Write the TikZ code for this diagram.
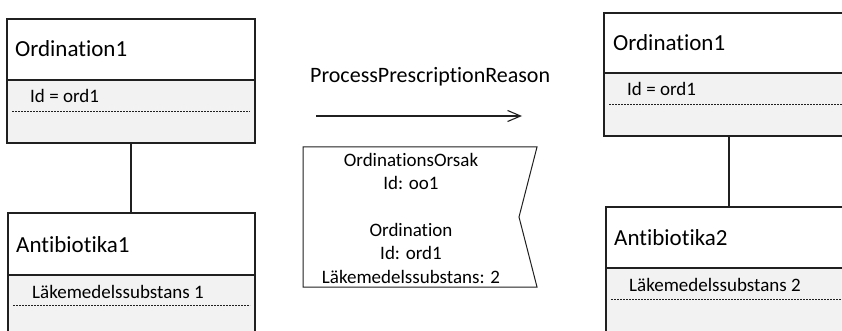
\documentclass[tikz,border=0pt]{standalone}
\usepackage{fontspec}
\setmainfont{Carlito}[Ligatures=NoCommon]
\usetikzlibrary{arrows.meta}
\definecolor{linegray}{HTML}{202020}
\definecolor{compfill}{HTML}{F2F2F2}
\tikzset{
  classbox/.style={draw=linegray, line width=1.3pt, anchor=north west,
    minimum width=248pt, inner sep=0pt, outer sep=0pt},
  attrsep/.style={draw=linegray, line width=0.8pt, dash pattern=on 2pt off 1pt},
  titletext/.style={anchor=base west, inner sep=0pt, font=\fontsize{23}{27}\selectfont},
  attrtext/.style={anchor=base west, inner sep=0pt, font=\fontsize{19}{23}\selectfont},
  link/.style={draw=linegray, line width=1.2pt},
  flow/.style={draw=linegray, line width=1.1pt, -{Straight Barb[length=13pt,width=11pt,line width=1.1pt]}},
  flag/.style={draw=linegray, line width=1pt, fill=white},
}
\begin{document}
\begin{tikzpicture}[x=1pt,y=-1pt]
\useasboundingbox (0,0) rectangle (842,331);
\clip (0,0) rectangle (842,331);
\fill[white] (0,0) rectangle (842,331);

% ---- left object pair ----
\fill[compfill] (7,80) rectangle (255,143);
\node[classbox, minimum height=124pt] (ordA) at (7,19) {};
\draw[link] (7,80) -- (255,80);
\draw[attrsep] (12,111) -- (250,111);
\node[titletext] (ordAt) at (15,57) {Ordination1};
\node[attrtext] (ordAa) at (30,103) {Id = ord1};

\fill[compfill] (8,275) rectangle (255,360);
\node[classbox, minimum width=247pt, minimum height=150pt] (antA) at (8,213) {};
\draw[link] (8,275) -- (255,275);
\draw[attrsep] (13,305) -- (250,305);
\node[titletext] (antAt) at (16,252) {Antibiotika1};
\node[attrtext] (antAa) at (32,298) {Läkemedelssubstans 1};

\draw[link] (ordA.south) -- (antA.north -| ordA.south);

% ---- operation in the middle ----
\node[anchor=base west, inner sep=0pt, font=\fontsize{22}{26}\selectfont] (op) at (310,83) {ProcessPrescriptionReason};
\coordinate (flowA) at (316,116);
\coordinate (flowB) at (522,116);
\draw[flow] (flowA) -- (flowB);

\draw[flag] (303,147) -- (537,147) -- (519,217) -- (537,287) -- (303,287) -- cycle;
\node[align=center, inner sep=0pt, anchor=north, font=\fontsize{19}{23.4}\selectfont] (msg) at (411,153)
  {OrdinationsOrsak\\Id: oo1\\[23.4pt]Ordination\\Id: ord1\\Läkemedelssubstans: 2};

% ---- right object pair ----
\fill[compfill] (604,73) rectangle (860,136);
\node[classbox, minimum width=250pt, minimum height=123pt] (ordB) at (604,13) {};
\draw[link] (604,73) -- (854,73);
\draw[attrsep] (609,104) -- (849,104);
\node[titletext] (ordBt) at (613,51) {Ordination1};
\node[attrtext] (ordBa) at (627,96) {Id = ord1};

\fill[compfill] (606,268) rectangle (860,360);
\node[classbox, minimum width=248pt, minimum height=160pt] (antB) at (606,207) {};
\draw[link] (606,268) -- (854,268);
\draw[attrsep] (611,299) -- (849,299);
\node[titletext] (antBt) at (614,245) {Antibiotika2};
\node[attrtext] (antBa) at (629,291) {Läkemedelssubstans 2};

\draw[link] (ordB.south) -- (antB.north -| ordB.south);
\end{tikzpicture}
\end{document}
